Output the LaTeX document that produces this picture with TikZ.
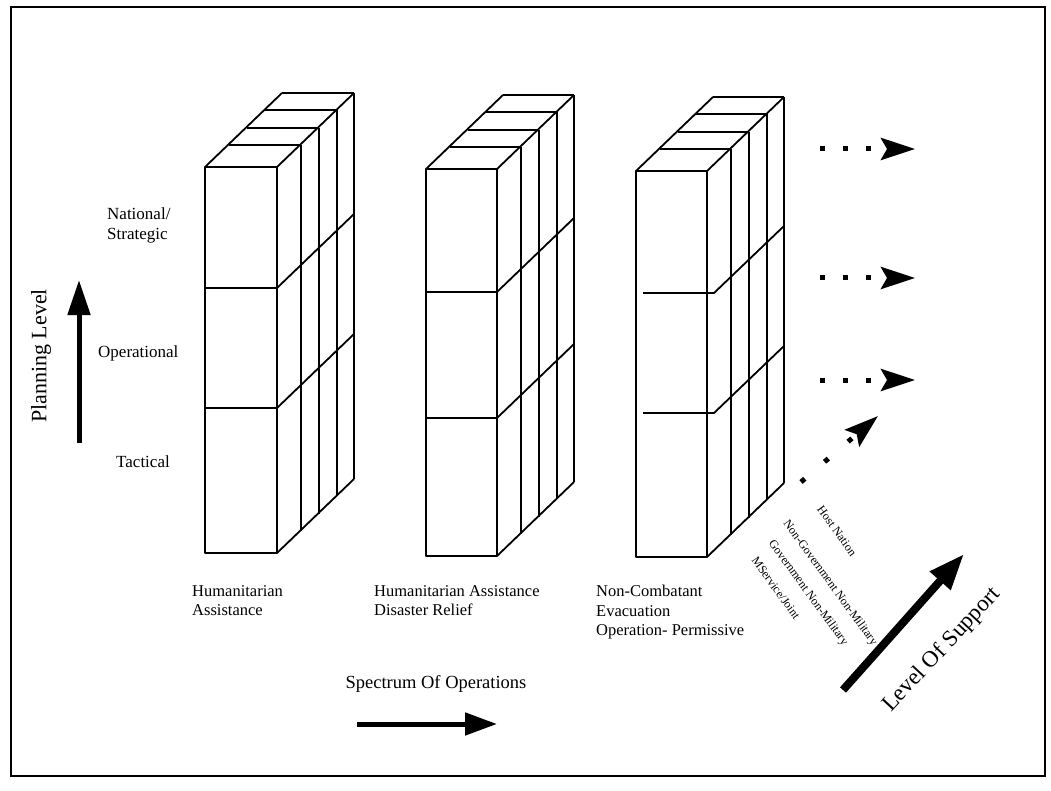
\documentclass[tikz,border=0pt]{standalone}
\usepackage{fontspec}
\setmainfont{Liberation Serif}
\usetikzlibrary{arrows.meta}
\newcommand\drawblock[9]{%
  % #1 x0, #2 x1, #3 top, #4 bottom, #5 div1, #6 div2, #7 div start x, #8 div overshoot
  \draw[edge] (#1,#3) rectangle (#2,#4);
  \foreach \ox/\oy in {24/22,42/39,60/57,77/74}{%
    \draw[edge] (#1+\ox,#3-\oy) -- (#2+\ox,#3-\oy);
    \draw[edge] (#2+\ox,#3-\oy) -- (#2+\ox,#4-\oy);
  }
  \draw[edge] (#1,#3) -- (#1+77,#3-74);
  \draw[edge] (#2,#3) -- (#2+77,#3-74);
  \draw[edge] (#2,#4) -- (#2+77,#4-74);
  \draw[edge] (#7,#5) -- (#2+#8,#5) -- (#2+77,#5-74+#8);
  \draw[edge] (#7,#6) -- (#2+#8,#6) -- (#2+77,#6-74+#8);
}
\begin{document}
\begin{tikzpicture}[x=1pt,y=-1pt,
  edge/.style={line width=1.8pt, line join=round},
  lbl/.style={font=\fontsize{16.5}{19.5}\selectfont, align=left, anchor=north west, inner sep=0pt},
  lvl/.style={font=\fontsize{17}{20}\selectfont, align=left, inner sep=0pt},
  sup/.style={font=\fontsize{12}{14}\selectfont, rotate=-54, inner sep=0pt},
  bigarrow/.style={line width=5pt, -{Triangle[length=35pt,width=22pt]}},
  dotarrow/.style={line width=5pt, dash pattern=on 5pt off 18pt, -{Stealth[length=34pt,width=22pt,inset=6pt]}},
  diagarrow/.style={line width=5pt, dash pattern=on 5pt off 26pt, -{Stealth[length=34pt,width=22pt,inset=6pt]}}]
\useasboundingbox (0,0) rectangle (1051,791);
\draw[line width=2pt] (11,7) rectangle (1045,776);

% blocks
\drawblock{205}{277}{167}{553}{288}{408}{205}{0}{}
\drawblock{426}{497}{169}{556}{292}{418}{426}{0}{}
\drawblock{636}{707}{171}{557}{293}{413}{643}{7}{}

% planning level
\node[lvl, anchor=north west] (nat) at (107,208) {National/\\Strategic};
\node[lvl, anchor=base west] (ope) at (98,357) {Operational};
\node[lvl, anchor=base west] (tac) at (116,467) {Tactical};
\node[font=\fontsize{22}{26}\selectfont, rotate=90, inner sep=0pt] (pl) at (41,356) {Planning Level};
\coordinate (pa) at (79,443);
\coordinate (pb) at (79,280);
\draw[bigarrow] (pa) -- (pb);

% operation labels
\node[lbl] (op1) at (192,585) {Humanitarian\\Assistance};
\node[lbl] (op2) at (374,585) {Humanitarian Assistance\\Disaster Relief};
\node[lbl] (op3) at (596,585) {Non-Combatant\\Evacuation\\Operation- Permissive};

\node[font=\fontsize{18.5}{22}\selectfont, inner sep=0pt] (spec) at (436,684) {Spectrum Of Operations};
\coordinate (sa) at (357,724);
\coordinate (sb) at (497,724);
\draw[line width=5pt, -{Triangle[length=32pt,width=22pt]}] (sa) -- (sb);

% dotted continuation arrows
\coordinate (r1a) at (820,149); \coordinate (r1b) at (915,149);
\coordinate (r2a) at (820,278); \coordinate (r2b) at (915,278);
\coordinate (r3a) at (820,380); \coordinate (r3b) at (915,380);
\coordinate (r4a) at (801,482); \coordinate (r4b) at (878,416);
\draw[dotarrow] (r1a) -- (r1b);
\draw[dotarrow] (r2a) -- (r2b);
\draw[dotarrow] (r3a) -- (r3b);
\draw[diagarrow] (r4a) -- (r4b);

% level of support labels
\node[sup] (hn) at (837,531) {Host Nation};
\node[sup] (ngnm) at (830,583) {Non-Government Non-Military};
\node[sup] (gnm) at (808,593) {Government Non-Military};
\node[sup] (msj) at (776,588) {MService/Joint};

\coordinate (la) at (843,690);
\coordinate (lb) at (964,554);
\draw[line width=8pt, -{Triangle[length=36pt,width=26pt]}] (la) -- (lb);
\node[font=\fontsize{23}{27}\selectfont, rotate=47, inner sep=0pt] (los) at (942,650) {Level Of Support};
\end{tikzpicture}
\end{document}
